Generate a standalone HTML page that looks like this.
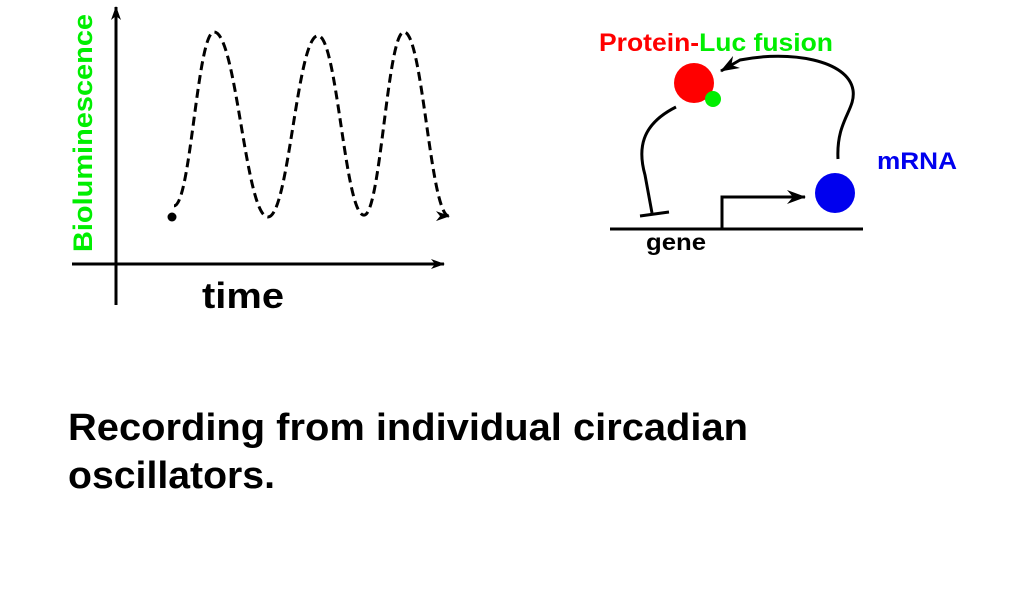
<!DOCTYPE html>
<html><head><meta charset="utf-8"><style>
html,body{margin:0;padding:0;background:#fff;}
svg{display:block;font-family:"Liberation Sans",Arial,sans-serif;font-weight:bold;}
</style></head><body>
<svg id="fig" width="1011" height="591" viewBox="0 0 1011 591">
<defs>
<marker id="ah" markerWidth="14" markerHeight="10" refX="13" refY="5" orient="auto" markerUnits="userSpaceOnUse"><path d="M0,0 L14,5 L0,10 L4,5 Z" fill="#000"/></marker>
<marker id="ah2" markerWidth="20" markerHeight="14" refX="18" refY="7" orient="auto" markerUnits="userSpaceOnUse"><path d="M0,0 L19,7 L0,14 L6,7 Z" fill="#000"/></marker>
</defs>
<g>
<line x1="116" y1="305" x2="116" y2="7" stroke="#000" stroke-width="3" marker-end="url(#ah)"/>
<line x1="72" y1="264" x2="444" y2="264" stroke="#000" stroke-width="3" marker-end="url(#ah)"/>
<text transform="translate(92,252) rotate(-90)" font-size="27" fill="#00ee00" textLength="238" lengthAdjust="spacingAndGlyphs">Bioluminescence</text>
<text x="202" y="308" font-size="36" fill="#000" textLength="82" lengthAdjust="spacingAndGlyphs">time</text>
<g id="series"></g>
</g>
<g>
<text x="599" y="51" font-size="25" textLength="234" lengthAdjust="spacingAndGlyphs"><tspan fill="#ff0000">Protein-</tspan><tspan fill="#00ee00">Luc fusion</tspan></text>
<circle cx="694" cy="83" r="20" fill="#ff0000"/>
<circle cx="713" cy="99" r="8" fill="#00ee00"/>
<circle cx="835" cy="193" r="20" fill="#0000ee"/>
<text x="877" y="169" font-size="24" fill="#0000ee" textLength="80" lengthAdjust="spacingAndGlyphs">mRNA</text>
<line x1="610" y1="229" x2="863" y2="229" stroke="#000" stroke-width="3"/>
<text x="646" y="250" font-size="23" fill="#000" textLength="60" lengthAdjust="spacingAndGlyphs">gene</text>
<path d="M722,229 L722,197 L805,197" fill="none" stroke="#000" stroke-width="3" marker-end="url(#ah2)"/>
<path d="M676,107 C640,125 638,150 645,175 L652,213" fill="none" stroke="#000" stroke-width="3"/>
<line x1="640" y1="216" x2="669" y2="212" stroke="#000" stroke-width="3"/>
<path d="M838,159 C836,120 856,110 853,90 C848,60 790,50 740,60 L721,71" fill="none" stroke="#000" stroke-width="3" marker-end="url(#ah2)"/>
</g>
<text x="68" y="440" font-size="38" fill="#000" textLength="680" lengthAdjust="spacingAndGlyphs">Recording from individual circadian</text>
<text x="68" y="488" font-size="38" fill="#000" textLength="207" lengthAdjust="spacingAndGlyphs">oscillators.</text>
</svg>
<script>
// extrema of the bioluminescence trace (time units, signal units)
const times = [0.2, 4.2, 9.6, 14.6, 19.2, 23.2, 27.7];
const values = [0.06, 1.0, 0.0, 0.98, 0.01, 1.0, 0.005];
const startTime = 0;
const startValue = 0.0;
const sx = t => 172 + t * 10;
const sy = v => 217 - v * 185;
const g = document.getElementById('series');
const ns = 'http://www.w3.org/2000/svg';
let d = 'M' + sx(times[0]) + ',' + sy(values[0]);
const k = 0.42;
for (let i = 1; i < times.length; i++) {
  const x0 = sx(times[i-1]), y0 = sy(values[i-1]), x1 = sx(times[i]), y1 = sy(values[i]);
  const dx = x1 - x0;
  d += ' C' + (x0 + k*dx) + ',' + y0 + ' ' + (x1 - k*dx) + ',' + y1 + ' ' + x1 + ',' + y1;
}
const p = document.createElementNS(ns, 'path');
p.setAttribute('d', d);
p.setAttribute('fill', 'none');
p.setAttribute('stroke', '#000');
p.setAttribute('stroke-width', '3');
p.setAttribute('stroke-dasharray', '9 5');
p.setAttribute('marker-end', 'url(#ah)');


g.appendChild(p);
const c = document.createElementNS(ns, 'circle');
c.setAttribute('cx', sx(startTime));
c.setAttribute('cy', sy(startValue));
c.setAttribute('r', '4.5');
c.setAttribute('fill', '#000');


g.appendChild(c);
</script>
</body></html>
